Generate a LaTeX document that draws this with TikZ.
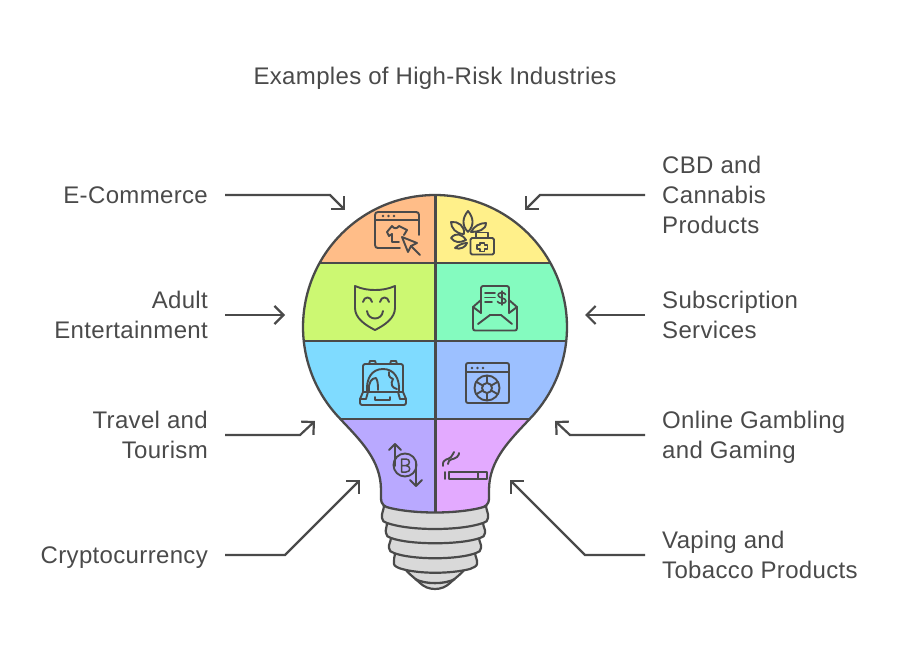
\documentclass[tikz,border=0pt]{standalone}
\usepackage{fontspec}
\setmainfont[LetterSpace=1.4]{Liberation Sans}
\usetikzlibrary{arrows.meta}
\definecolor{inkgray}{HTML}{4A4A4A}
\definecolor{baseGray}{HTML}{D9D9D9}
\definecolor{segOrange}{HTML}{FFBD88}
\definecolor{segYellow}{HTML}{FFF08A}
\definecolor{segLime}{HTML}{CCF872}
\definecolor{segMint}{HTML}{84FBBF}
\definecolor{segSky}{HTML}{7FDBFF}
\definecolor{segBlue}{HTML}{9CC0FF}
\definecolor{segViolet}{HTML}{B9A9FF}
\definecolor{segPink}{HTML}{E3AAFF}
\def\ls{\rule[-6.5pt]{0pt}{30pt}}
\tikzset{
	labeltext/.style={inner ysep=0pt, text=inkgray, font=\fontsize{24}{30}\selectfont},
	leftlabel/.style={labeltext, anchor=east, align=right, inner xsep=17pt},
	rightlabel/.style={labeltext, anchor=west, align=left, inner xsep=17pt},
	conn/.style={line width=2.2pt, color=inkgray, -{Straight Barb[length=9pt, width=18pt]}},
	outline/.style={line width=2.3pt, color=inkgray, line join=round},
	threadline/.style={line width=2.2pt, color=inkgray, fill=baseGray, line join=round},
	icon/.style={line width=1.9pt, color=inkgray, line cap=round, line join=round},
}
\def\bulbshape{plot[domain=135.8:404.2, samples=121] ({435+132*cos(\x)}, {327+132*sin(\x)})
	.. controls (510, 440) and (489, 460) .. (489, 490) -- (489, 498)
	.. controls (489, 505) and (485, 507) .. (480, 508)
	.. controls (455, 514) and (415, 514) .. (390, 508)
	.. controls (385, 507) and (381, 505) .. (381, 498) -- (381, 490)
	.. controls (381, 460) and (360, 440) .. (340.3, 419) -- cycle}

\begin{document}
\begin{tikzpicture}[x=1pt, y=-1pt]
	\useasboundingbox (0, 0) rectangle (900, 650);

	%%%%% TITLE %%%%%
	\node[labeltext] (title) at (435, 76) {\ls Examples of High-Risk Industries};

	%%%%% LABELS %%%%%
	\node[leftlabel] (ecommerce) at (225, 195) {\ls E-Commerce};
	\node[leftlabel] (adult) at (225, 315) {\ls Adult\ \\\ls Entertainment};
	\node[leftlabel] (travel) at (225, 435) {\ls Travel and\\\ls Tourism};
	\node[leftlabel] (crypto) at (225, 555) {\ls Cryptocurrency};
	\node[rightlabel] (cannabis) at (645, 195) {\ls CBD and\\\ls Cannabis\\\ls Products};
	\node[rightlabel] (subscription) at (645, 315) {\ls Subscription\\\ls Services};
	\node[rightlabel] (gambling) at (645, 435) {\ls Online Gambling\\\ls and Gaming};
	\node[rightlabel] (vaping) at (645, 555) {\ls Vaping and\\\ls Tobacco Products};

	%%%%% CONNECTORS %%%%%
	\coordinate (ecommerceTip) at (345, 210);
	\coordinate (adultTip) at (285, 315);
	\coordinate (travelTip) at (315, 421);
	\coordinate (cryptoTip) at (360, 480);
	\coordinate (cannabisTip) at (525, 210);
	\coordinate (subscriptionTip) at (585, 315);
	\coordinate (gamblingTip) at (555, 421);
	\coordinate (vapingTip) at (510, 480);

	\draw[conn] (ecommerce.east) -- ++(105, 0) -- (ecommerceTip);
	\draw[conn] (adult.east) -- (adultTip);
	\draw[conn] (travel.east) -- ++(75, 0) -- (travelTip);
	\draw[conn] (crypto.east) -- ++(60, 0) -- (cryptoTip);
	\draw[conn] (cannabis.west) -- ++(-105, 0) -- (cannabisTip);
	\draw[conn] (subscription.west) -- (subscriptionTip);
	\draw[conn] (gambling.west) -- ++(-75, 0) -- (gamblingTip);
	\draw[conn] (vaping.west) -- ++(-60, 0) -- (vapingTip);

	%%%%% BASE %%%%%
	\draw[threadline] (403, 566) .. controls (408, 574) and (415, 578) .. (420, 583)
		.. controls (428, 591) and (442, 591) .. (450, 583)
		.. controls (455, 578) and (462, 574) .. (467, 566) -- cycle;
	\draw[outline] (415, 579) .. controls (425, 584.5) and (445, 584.5) .. (455, 579);
	\draw[threadline] (395, 552) .. controls (395, 557) and (393, 560) .. (394, 564)
		.. controls (394, 566) and (398, 568) .. (402, 569)
		.. controls (420, 574) and (450, 574) .. (470, 569)
		.. controls (473, 568) and (477, 566) .. (477, 564)
		.. controls (478, 560) and (475, 557) .. (475, 552) -- cycle;
	\draw[threadline] (391, 537) .. controls (391, 542) and (388, 545) .. (389, 548)
		.. controls (389, 551) and (391, 552) .. (394, 553)
		.. controls (412, 560) and (458, 560) .. (476, 553)
		.. controls (479, 552) and (481, 551) .. (481, 548)
		.. controls (482, 545) and (479, 542) .. (479, 537) -- cycle;
	\draw[threadline] (387, 522) .. controls (387, 527) and (385, 530) .. (386, 533)
		.. controls (386, 536) and (388, 537) .. (391, 538)
		.. controls (410, 545) and (460, 545) .. (480, 538)
		.. controls (483, 537) and (485, 536) .. (485, 533)
		.. controls (486, 530) and (483, 527) .. (483, 522) -- cycle;
	\draw[threadline] (384, 505) .. controls (384, 510) and (381, 514) .. (382, 518)
		.. controls (382, 521) and (384, 522) .. (387, 523)
		.. controls (410, 531) and (460, 531) .. (483, 523)
		.. controls (486, 522) and (488, 521) .. (488, 518)
		.. controls (489, 514) and (486, 510) .. (486, 505) -- cycle;

	%%%%% BULB %%%%%
	\begin{scope}
		\clip \bulbshape;
		\fill[segOrange] (290, 190) rectangle (435.5, 263);
		\fill[segYellow] (435.5, 190) rectangle (580, 263);
		\fill[segLime] (290, 263) rectangle (435.5, 341);
		\fill[segMint] (435.5, 263) rectangle (580, 341);
		\fill[segSky] (290, 341) rectangle (435.5, 419);
		\fill[segBlue] (435.5, 341) rectangle (580, 419);
		\fill[segViolet] (290, 419) rectangle (435.5, 520);
		\fill[segPink] (435.5, 419) rectangle (580, 520);
		\draw[outline] (290, 263) -- (580, 263);
		\draw[outline] (290, 341) -- (580, 341);
		\draw[outline] (290, 419) -- (580, 419);
		\draw[outline] (435.5, 190) -- (435.5, 520);
	\end{scope}
	\draw[outline] \bulbshape;

	%%%%% ICONS %%%%%
	% shop window
	\draw[icon] (400, 248) -- (378, 248) .. controls (376, 248) and (375, 247) .. (375, 245) -- (375, 215)
		.. controls (375, 213) and (376, 212) .. (378, 212) -- (416, 212)
		.. controls (418, 212) and (419, 213) .. (419, 215) -- (419, 235);
	\draw[icon] (375, 220) -- (419, 220);
	\fill[inkgray] (383, 216) circle (1.3) (388.5, 216) circle (1.3) (394, 216) circle (1.3);
	\draw[icon] (399, 242) -- (392, 242) -- (392, 234) -- (389, 236) -- (387, 232) -- (392, 226)
		.. controls (394, 229) and (397, 229) .. (399, 226) -- (407, 230) -- (404, 235);
	\draw[icon] (402, 237) -- (417, 243) -- (411, 246) -- (408, 252) -- cycle;
	\draw[icon] (411, 246) -- (420, 255);

	% leaf and medical case
	\draw[icon] (468, 232) .. controls (461, 225) and (463, 217) .. (468, 211) .. controls (473, 217) and (475, 225) .. (468, 232);
	\draw[icon] (464, 234) .. controls (456, 234) and (451, 228) .. (451, 222) .. controls (458, 221) and (465, 226) .. (464, 234);
	\draw[icon] (471, 232) .. controls (478, 232) and (486, 230) .. (486, 223) .. controls (480, 223) and (474, 226) .. (471, 232);
	\draw[icon] (451, 238) .. controls (456, 232) and (462, 234) .. (466, 240) .. controls (460, 243) and (455, 243) .. (451, 238);
	\draw[icon] (455, 248) .. controls (458, 245) and (463, 243) .. (467, 243) .. controls (466, 247) and (460, 250) .. (455, 248);
	\filldraw[icon, fill=segYellow, rounded corners=1.5] (470.5, 238) rectangle (494, 254.5);
	\draw[icon] (476, 238) -- (476, 232.5) -- (488, 232.5) -- (488, 238);
	\draw[icon] (480, 243) -- (484.5, 243) -- (484.5, 245) -- (487.5, 245) -- (487.5, 249) -- (484.5, 249) -- (484.5, 251.5)
		-- (480, 251.5) -- (480, 249) -- (477, 249) -- (477, 245) -- (480, 245) -- cycle;

	% mask
	\draw[icon] (355, 286) .. controls (362, 289) and (368, 290) .. (375, 290) .. controls (382, 290) and (388, 289) .. (395, 286)
		-- (395, 308) .. controls (395, 318) and (385, 325) .. (375, 330)
		.. controls (365, 325) and (355, 318) .. (355, 308) -- cycle;
	\draw[icon] (363, 302) .. controls (364, 296) and (371, 296) .. (372, 302);
	\draw[icon] (380, 302) .. controls (381, 296) and (388, 296) .. (389, 302);
	\draw[icon] (367, 311) .. controls (368, 321) and (382, 321) .. (383, 311);

	% envelope with invoice
	\draw[icon] (481, 300) -- (473, 307) -- (473, 328) .. controls (473, 330) and (474, 330.5) .. (475, 330.5)
		-- (515, 330.5) .. controls (516, 330.5) and (517, 330) .. (517, 328) -- (517, 307) -- (509, 300);
	\draw[icon] (481, 313) -- (481, 288) .. controls (481, 287) and (482, 286) .. (483, 286) -- (507, 286)
		.. controls (508, 286) and (509, 287) .. (509, 288) -- (509, 313);
	\draw[icon] (473, 307) -- (481, 313);
	\draw[icon] (517, 307) -- (509, 313);
	\draw[icon] (478, 324) -- (490, 315) -- (501, 315) -- (512, 324);
	\draw[icon] (485, 293) -- (495, 293) (485, 297.5) -- (495, 297.5) (485, 302) -- (492, 302);
	\draw[icon, line width=1.6pt] (505.5, 294.5) .. controls (505, 292) and (498, 292) .. (498, 295)
		.. controls (498, 298.5) and (506, 297.5) .. (506, 301) .. controls (506, 304) and (498, 304) .. (497.5, 301.5);
	\draw[icon, line width=1.4pt] (502, 291) -- (502, 305);

	% suitcase with globe
	\draw[icon] (363, 392) -- (363, 366) .. controls (363, 365) and (364, 364) .. (365, 364) -- (401, 364)
		.. controls (402, 364) and (403, 365) .. (403, 366) -- (403, 392);
	\draw[icon] (369, 364) -- (370, 361) -- (375, 361) -- (376, 364);
	\draw[icon] (390, 364) -- (391, 361) -- (396, 361) -- (397, 364);
	\draw[icon] (363, 392) -- (403, 392) -- (406, 399) -- (406, 403) .. controls (406, 404) and (405, 405) .. (404, 405)
		-- (362, 405) .. controls (361, 405) and (360, 404) .. (360, 403) -- (360, 399) -- cycle;
	\draw[icon] (360, 399) -- (366, 399) -- (368, 392);
	\draw[icon] (406, 399) -- (400, 399) -- (398, 392);
	\draw[icon] (375, 397) -- (375, 400) -- (390, 400) -- (390, 397);
	\draw[icon] (367, 392) .. controls (366, 378) and (372, 369) .. (383, 369) .. controls (394, 369) and (400, 378) .. (399, 392);
	\draw[icon] (369, 391) .. controls (368, 382) and (372, 378) .. (376, 378) .. controls (378, 381) and (378, 386) .. (378, 390);
	\draw[icon] (389, 372) .. controls (388, 378) and (392, 378) .. (393, 379) .. controls (390, 384) and (392, 388) .. (397, 389);

	% gambling window
	\draw[icon, rounded corners=2] (466, 363) rectangle (509, 403);
	\draw[icon] (466, 372) -- (509, 372);
	\fill[inkgray] (472, 368) circle (1.3) (477.5, 368) circle (1.3) (483, 368) circle (1.3);
	\draw[icon] (487, 388) circle (12.5);
	\draw[icon] (487, 388) circle (5);
	\foreach \a in {30, 90, 150, 210, 270, 330}
		\draw[icon] ({487+5*cos(\a)}, {388+5*sin(\a)}) -- ({487+12.5*cos(\a)}, {388+12.5*sin(\a)});

	% bitcoin with arrows
	\draw[icon] (405, 465) circle (11.5);
	\draw[icon] (395, 444) -- (395, 466);
	\draw[icon] (389, 450) -- (395, 444) -- (401, 450);
	\draw[icon] (416, 462) -- (416, 486);
	\draw[icon] (410, 480) -- (416, 486) -- (422, 480);
	\draw[icon, line width=1.5pt] (401.5, 459) -- (401.5, 472) (401.5, 459) -- (406, 459)
		.. controls (410.5, 459) and (410.5, 465) .. (406, 465.5) -- (401.5, 465.5) (406, 465.5)
		.. controls (411, 466) and (411, 472) .. (406, 472) -- (401.5, 472);

	% cigarette
	\draw[icon] (449, 472) rectangle (487, 479);
	\draw[icon] (478, 472) -- (478, 479);
	\draw[icon] (445, 472) -- (445, 479);
	\draw[icon] (443, 466) .. controls (442, 458) and (449, 460) .. (451, 457) .. controls (453, 455) and (453, 453) .. (454, 452);
	\draw[icon] (448, 464) .. controls (448, 458) and (454, 460) .. (457, 457) .. controls (459, 455) and (459, 454) .. (459, 453);
\end{tikzpicture}
\end{document}
